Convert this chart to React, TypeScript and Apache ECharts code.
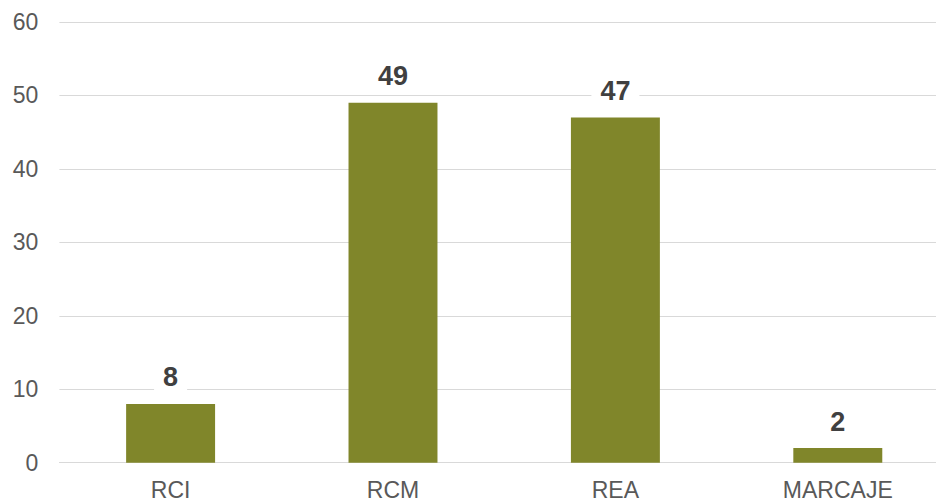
import React, { useEffect, useRef } from "react";
import * as echarts from "echarts";

const categories = ["RCI", "RCM", "REA", "MARCAJE"];
const values = [8, 49, 47, 2];
const yTicks = { min: 0, max: 60, interval: 10 };

export default function App() {
  const ref = useRef<HTMLDivElement>(null);
  useEffect(() => {
    if (!ref.current) return;
    const chart = echarts.init(ref.current, undefined, { renderer: "svg" });
    chart.setOption({
      animation: false,
      grid: { left: 59.4, right: 0, top: 22, bottom: 40.3, containLabel: false },
      xAxis: {
        type: "category",
        data: categories,
        axisLine: { show: true, lineStyle: { color: "#d9d9d9", width: 1 } },
        axisTick: { show: false },
        axisLabel: {
          color: "#595959",
          fontSize: 23,
          fontFamily: "Liberation Sans, Arial, sans-serif",
          margin: 16,
        },
      },
      yAxis: {
        type: "value",
        min: yTicks.min,
        max: yTicks.max,
        interval: yTicks.interval,
        axisLine: { show: false },
        axisTick: { show: false },
        splitLine: { lineStyle: { color: "#d9d9d9", width: 1 } },
        axisLabel: {
          color: "#595959",
          fontSize: 23,
          fontFamily: "Liberation Sans, Arial, sans-serif",
          margin: 21,
        },
      },
      series: [
        {
          type: "bar",
          data: values,
          barWidth: "40%",
          itemStyle: { color: "#80862a" },
          label: {
            show: true,
            position: "top",
            distance: 11,
            color: "#404040",
            fontSize: 27,
            fontWeight: "bold",
            fontFamily: "Liberation Sans, Arial, sans-serif",
            backgroundColor: "#ffffff",
            padding: [2, 9],
          },
        },
      ],
    });
    return () => chart.dispose();
  }, []);
  return (
    <div
      style={{ position: "fixed", left: 0, top: 0, width: 936, height: 503, overflow: "hidden", background: "#fff" }}
    >
      <div ref={ref} style={{ width: 949, height: 503 }} />
    </div>
  );
}
